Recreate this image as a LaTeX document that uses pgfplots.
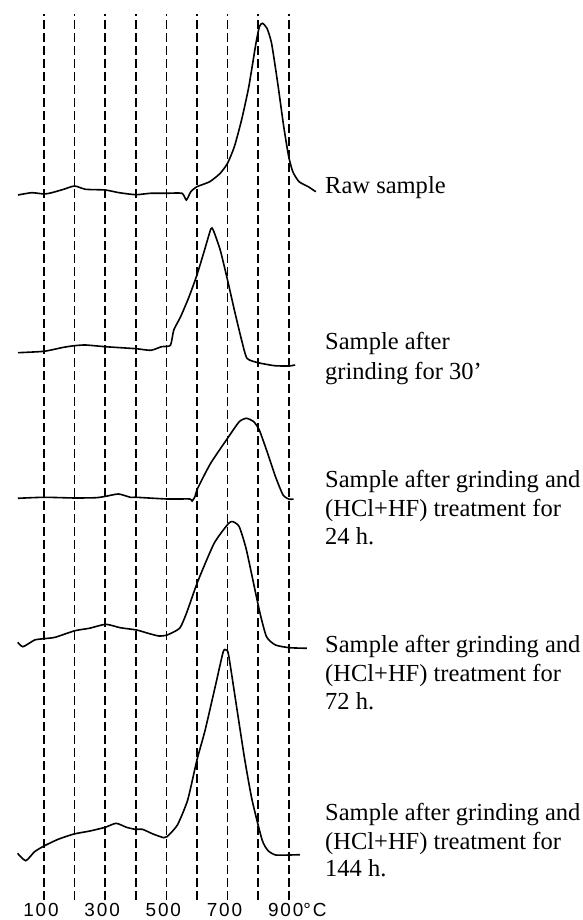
\documentclass[border=0pt]{standalone}
\usepackage{fontspec}
\setmainfont{Liberation Serif}
\newfontfamily\tickfont[LetterSpace=10]{Liberation Sans}
\usepackage{pgfplots}
\pgfplotsset{compat=1.18}
\newcommand\labfont{\fontsize{24.6}{28}\selectfont}
\begin{document}
\begin{tikzpicture}
\begin{axis}[
  x=0.30588bp, y=1bp,
  xmin=-43.85, xmax=1858.9, ymin=20, ymax=906,
  clip=false,
  axis line style={draw=none},
  tick style={draw=none},
  major tick length=0pt,
  ytick=\empty,
  xtick={100,200,300,400,500,600,700,800,900},
  xticklabels={100,,300,,500,,700,,900\rlap{°C}},
  xticklabel style={anchor=base, yshift=-16.7bp, xshift=-3bp, font=\tickfont\fontsize{19}{19}\selectfont},
  xmajorgrids,
  grid style={black, line width=1.7bp, dash pattern=on 9bp off 4bp},
]
% Raw sample
\addplot[black, line width=1.6bp, smooth, tension=0.35] coordinates {
(15,725) (60,727.3) (100,726) (125.5,727.3) (164.3,730.7) (200,734) (235.7,730.7) (300,730) (345.7,727.3) (400,725.3) (448.2,726.7) (500,726.7) (551,726.7) (565.3,720) (580,728.3) (600,733.3) (642,738.3) (676.1,746.7) (700,756.7) (722.3,773.3) (745.9,800) (769.6,833.3) (792.9,876.7) (804.2,893.3) (814.1,896.7) (829,891.7) (844,876.7) (864.1,836.7) (883.8,793.3) (900,763.3) (913.8,748) (933.8,738.3) (963.8,733.3) (988.6,728.3)
};
% after grinding 30'
\addplot[black, line width=1.6bp, smooth, tension=0.35] coordinates {
(15,567.3) (100,568.7) (164.3,572.7) (200,574.3) (235.7,575) (300,573.3) (400,571.3) (449.3,569.7) (484.5,573.3) (513.3,574.7) (524.3,590) (546.7,603.3) (574.3,623.3) (600,645) (624.9,670) (645.4,691) (653.2,690) (676.1,670) (700,640) (722.3,610) (745.9,580) (763.6,561.7) (800,557.3) (853.9,554.3) (900,554) (921,555)
};
% 24 h
\addplot[black, line width=1.6bp, smooth, tension=0.35] coordinates {
(14.3,421.7) (100,422.7) (201,422) (270.7,422.3) (302,423.7) (343.6,426) (382.6,422.7) (402.8,422.7) (502.3,421) (576.7,421) (584.3,419) (593.3,423.3) (602.4,431.7) (644.8,456.7) (703.6,483.3) (738.2,498.3) (761.8,501.7) (785.7,498.3) (803.8,490) (827.4,470) (856.8,443.3) (881.5,425) (902.1,420.7) (915.6,421)
};
% 72 h
\addplot[black, line width=1.6bp, smooth, tension=0.35] coordinates {
(14.3,277.7) (31.4,273.3) (69.4,280) (100,281.3) (136.3,282.7) (201,289.3) (248.1,291.7) (302,295.7) (349,292.3) (402.8,290) (440.4,286.7) (475.4,284) (502.3,285) (543.3,291.7) (565.7,306.7) (602.4,338.3) (656.2,376.7) (703.6,396.7) (717.9,398.3) (738.2,393.3) (761.8,370) (803.8,310) (827.4,283.3) (856.8,275) (902.1,272.3) (959.7,271.7)
};
% 144 h
\addplot[black, line width=1.6bp, smooth, tension=0.35] coordinates {
(13.5,66.7) (40.3,59.3) (69.2,68.3) (100,74) (146.1,80.7) (198,86) (250.3,89) (300,92.7) (335.8,96.7) (369.6,92.7) (398,90.7) (421.6,90.7) (456.4,86) (491.3,82.3) (502.4,83.3) (536.1,95) (569.7,120) (600,160) (626.9,190) (662.2,236.7) (685.9,268.3) (695.4,270) (703.5,265) (732.9,206.7) (756.5,160) (780.2,120) (813.1,80) (832.6,69.3) (857.6,65) (902.1,65) (936.5,65.3)
};
\node[anchor=base west, font=\labfont, inner sep=0pt] at (axis cs:1018.7,726.7) {Raw sample};
\node[anchor=base west, font=\labfont, inner sep=0pt] at (axis cs:1018.7,570) {Sample after};
\node[anchor=base west, font=\labfont, inner sep=0pt] at (axis cs:1018.7,540) {grinding for 30’};
\node[anchor=base west, font=\labfont, inner sep=0pt] at (axis cs:1018.7,432) {Sample after grinding and};
\node[anchor=base west, font=\labfont, inner sep=0pt] at (axis cs:1018.7,403.3) {(HCl+HF) treatment for};
\node[anchor=base west, font=\labfont, inner sep=0pt] at (axis cs:1018.7,375) {24 h.};
\node[anchor=base west, font=\labfont, inner sep=0pt] at (axis cs:1018.7,267) {Sample after grinding and};
\node[anchor=base west, font=\labfont, inner sep=0pt] at (axis cs:1018.7,238.3) {(HCl+HF) treatment for};
\node[anchor=base west, font=\labfont, inner sep=0pt] at (axis cs:1018.7,210) {72 h.};
\node[anchor=base west, font=\labfont, inner sep=0pt] at (axis cs:1018.7,99) {Sample after grinding and};
\node[anchor=base west, font=\labfont, inner sep=0pt] at (axis cs:1018.7,70.7) {(HCl+HF) treatment for};
\node[anchor=base west, font=\labfont, inner sep=0pt] at (axis cs:1018.7,44) {144 h.};
\coordinate (bl) at (axis cs:-43.85,0);
\coordinate (tr) at (axis cs:1858.9,920);
\end{axis}
\pgfresetboundingbox
\path (bl) rectangle (tr);
\end{tikzpicture}
\end{document}
